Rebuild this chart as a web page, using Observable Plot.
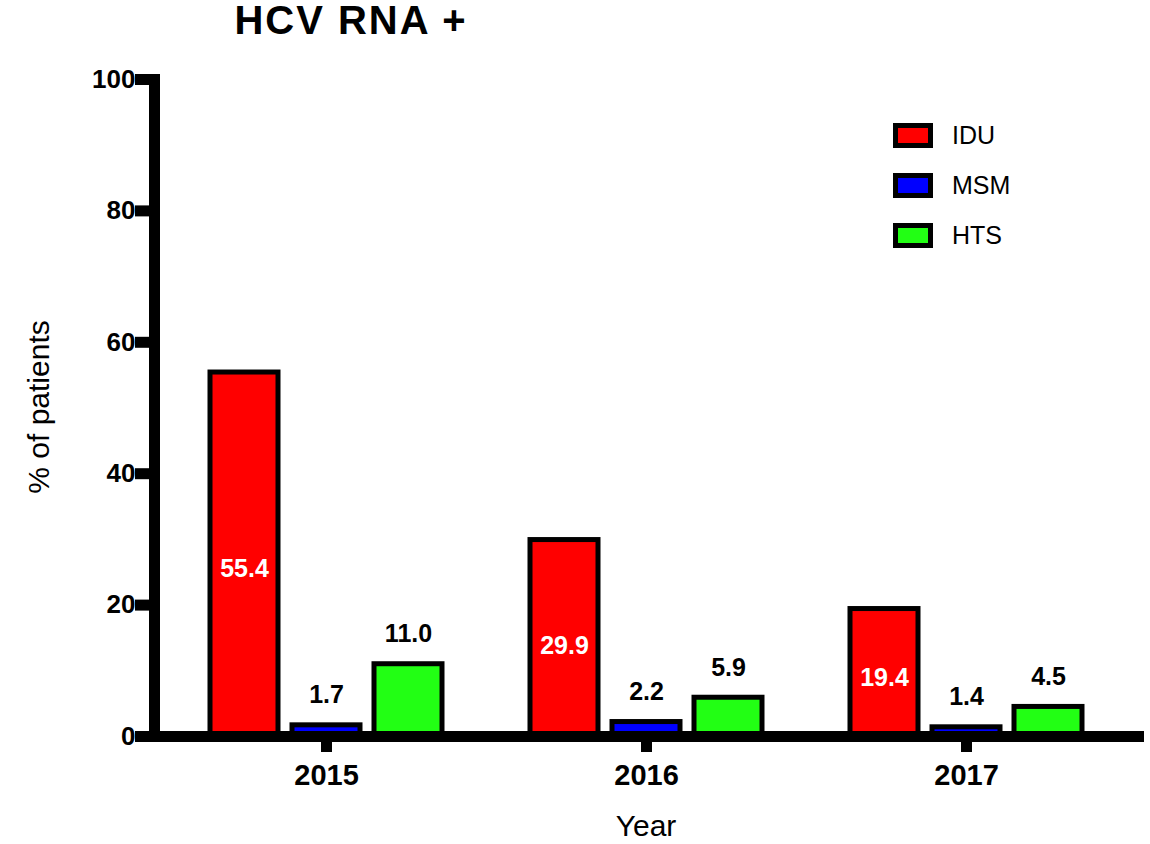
<!DOCTYPE html>
<html>
<head>
<meta charset="utf-8">
<script src="https://cdn.jsdelivr.net/npm/d3@7"></script>
<script src="https://cdn.jsdelivr.net/npm/@observablehq/plot@0.6"></script>
<style>
  html, body { margin: 0; padding: 0; background: #fff; }
  #wrap { position: relative; width: 1150px; height: 844px; font-family: "Liberation Sans", Arial, sans-serif; color: #000; }
  #title { position: absolute; left: 0; top: 0; width: 702px; text-align: center; font-size: 40px; font-weight: bold; line-height: 1; letter-spacing: 2px; }
  #chart { position: absolute; left: 0; top: 60px; }
  #ylabel { position: absolute; left: 39px; top: 407px; transform: translate(-50%, -50%) rotate(-90deg); font-size: 30px; white-space: nowrap; line-height: 1; }
  #xlabel { position: absolute; left: 646px; top: 811px; transform: translateX(-50%); font-size: 30px; line-height: 1; }
  #legend { position: absolute; left: 893px; top: 123px; }
  .item { display: flex; align-items: center; height: 25px; margin-bottom: 25px; }
  .sw { width: 40px; height: 25px; box-sizing: border-box; border: 5px solid #000; }
  .lab { margin-left: 19px; font-size: 25px; line-height: 1; }
</style>
</head>
<body>
<div id="wrap">
  <div id="title">HCV RNA +</div>
  <div id="chart"></div>
  <div id="ylabel">% of patients</div>
  <div id="xlabel">Year</div>
  <div id="legend"></div>
</div>
<script>
const years = ["2015", "2016", "2017"];
const groups = ["IDU", "MSM", "HTS"];
const colors = ["#ff0000", "#0000ff", "#22ff14"];
const iduValues = [55.4, 29.9, 19.4];
const msmValues = [1.7, 2.2, 1.4];
const htsValues = [11.0, 5.9, 4.5];
const yTicks = [0, 20, 40, 60, 80, 100];

const series = [iduValues, msmValues, htsValues];
const table = [];
years.forEach((year, i) => {
  groups.forEach((group, j) => {
    table.push({year, group, value: series[j][i]});
  });
});
const inside = table.filter(d => d.group === "IDU");
const above = table.filter(d => d.group !== "IDU");

const fxPadOuter = 0.0375;
const facetStep = (1150 - 154 - 12) / (years.length + 2 * fxPadOuter);
const outerGap = facetStep * fxPadOuter;

const chart = Plot.plot({
  width: 1150,
  height: 740,
  marginLeft: 154,
  marginRight: 12,
  marginTop: 19,
  marginBottom: 64,
  style: {fontFamily: "Liberation Sans, Arial, sans-serif", color: "#000", background: "transparent"},
  fx: {domain: years, paddingInner: 0, paddingOuter: fxPadOuter, label: null, axis: null},
  x: {domain: groups, paddingInner: 0.176, paddingOuter: 0.527, axis: null},
  y: {domain: [0, 100], axis: null},
  color: {domain: groups, range: colors},
  marks: [
    Plot.barY(table, {fx: "year", x: "group", y: "value", fill: "group", stroke: "#000", strokeWidth: 5}),
    Plot.text(inside, {fx: "year", x: "group", y: d => d.value * 0.46, text: d => d.value.toFixed(1), fill: "#fff", fontSize: 25, fontWeight: "bold"}),
    Plot.text(above, {fx: "year", x: "group", y: "value", dy: -30, text: d => d.value.toFixed(1), fill: "#000", fontSize: 25, fontWeight: "bold"}),
    Plot.axisFx({anchor: "bottom", tickSize: 16, tickPadding: 12, strokeWidth: 11, fontSize: 29, fontWeight: "bold", label: null}),
    Plot.axisY({ticks: yTicks, dx: -outerGap, tickSize: 19, tickPadding: 0, strokeWidth: 11, fontSize: 26, fontWeight: "bold", label: null}),
    Plot.frame({facet: "super", anchor: "left", insetLeft: -outerGap, stroke: "#000", strokeWidth: 11, strokeLinecap: "square"}),
    Plot.frame({facet: "super", anchor: "bottom", insetLeft: -outerGap, insetRight: -outerGap, stroke: "#000", strokeWidth: 11})
  ]
});
document.getElementById("chart").appendChild(chart);

const legend = document.getElementById("legend");
groups.forEach((g, i) => {
  const item = document.createElement("div");
  item.className = "item";
  const sw = document.createElement("div");
  sw.className = "sw";
  sw.style.background = colors[i];
  const lab = document.createElement("div");
  lab.className = "lab";
  lab.textContent = g;
  item.appendChild(sw);
  item.appendChild(lab);
  legend.appendChild(item);
});
</script>
</body>
</html>
